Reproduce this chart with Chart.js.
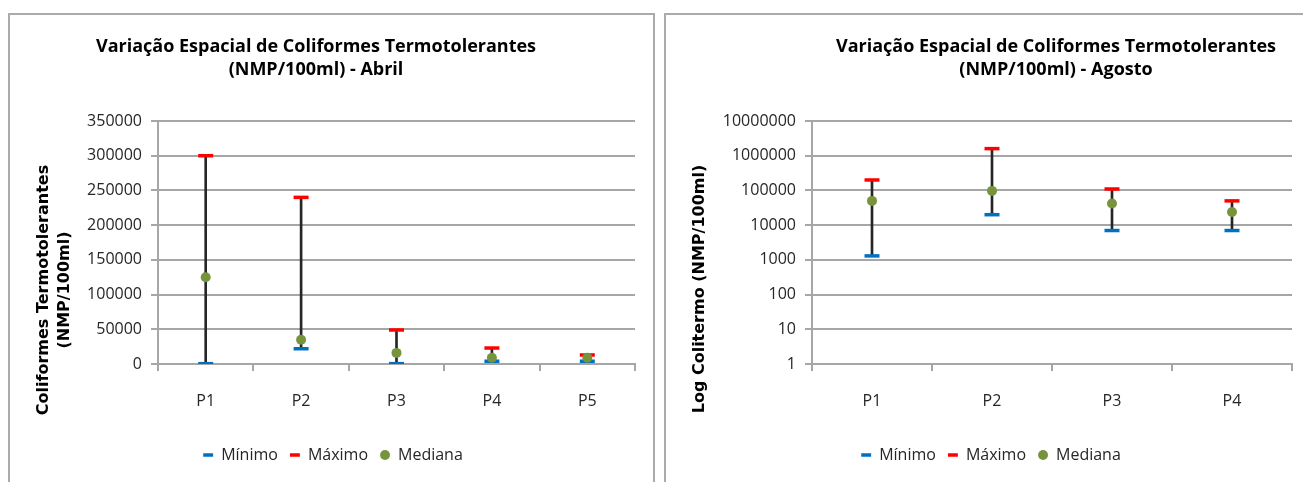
<!DOCTYPE html>
<html lang="pt">
<head>
<meta charset="utf-8">
<title>Variação Espacial de Coliformes Termotolerantes</title>
<script src="https://cdn.jsdelivr.net/npm/chart.js@4.4.1/dist/chart.umd.min.js"></script>
<style>
  html, body { margin: 0; padding: 0; background: #fff; overflow: hidden; }
  body { width: 1303px; height: 482px; position: relative; }
  .frame { position: absolute; border: 2px solid #ababab; box-sizing: border-box; }
  canvas { position: absolute; }
</style>
</head>
<body>
<div class="frame" style="left:8px; top:13px; width:647px; height:490px;"></div>
<div class="frame" style="left:664px; top:13px; width:660px; height:490px;"></div>
<canvas id="abril" width="646" height="468" style="left:8px; top:14px;"></canvas>
<canvas id="agosto" width="638" height="468" style="left:665px; top:14px;"></canvas>
<script>
// Abril: pontos P1–P5, escala linear (NMP/100ml)
const abrilPontos  = ['P1', 'P2', 'P3', 'P4', 'P5'];
const abrilMinimo  = [500, 22000, 500, 4000, 4000];
const abrilMaximo  = [300000, 240000, 49000, 23000, 13000];
const abrilMediana = [125000, 35000, 16000, 9000, 9000];
const abrilTicks   = [0, 50000, 100000, 150000, 200000, 250000, 300000, 350000];

// Agosto: pontos P1–P4, escala logarítmica
const agostoPontos  = ['P1', 'P2', 'P3', 'P4'];
const agostoMinimo  = [1300, 20000, 7000, 7000];
const agostoMaximo  = [200000, 1600000, 110000, 50000];
const agostoMediana = [50000, 97000, 42000, 24000];
const agostoTicks   = [1, 10, 100, 1000, 10000, 100000, 1000000, 10000000];

const SANS = "'Open Sans', sans-serif";
const AXIS_TXT = '#262626';
const GRID = '#a6a6a6';

// Títulos desenhados no canvas em posições livres (como no gráfico do Excel)
const textLayer = {
  id: 'textLayer',
  afterDraw(chart, args, opts) {
    const ctx = chart.ctx;
    ctx.save();
    ctx.fillStyle = '#000';
    ctx.textAlign = 'center';
    ctx.textBaseline = 'middle';
    ctx.font = opts.titleFont;
    opts.titleLines.forEach((t, i) => ctx.fillText(t, opts.titleX, opts.titleY + i * opts.titleGap));
    ctx.font = opts.axisFont;
    opts.axisLines.forEach((t, i) => {
      ctx.save();
      ctx.translate(opts.axisX + i * opts.axisGap, opts.axisY);
      ctx.rotate(-Math.PI / 2);
      ctx.fillText(t, 0, 0);
      ctx.restore();
    });
    ctx.restore();
  }
};

function buildChart(id, labels, minimo, maximo, mediana, ticks, cfg) {
  const whisker = labels.map((_, i) => [minimo[i], maximo[i]]);
  return new Chart(document.getElementById(id), {
    type: 'bar',
    data: {
      labels,
      datasets: [
        { type: 'line', label: 'Mínimo', data: minimo, showLine: false, order: 2,
          pointStyle: 'line', pointRadius: 7.5, pointBorderWidth: 3.5,
          borderColor: '#0070C0', backgroundColor: '#0070C0' },
        { type: 'line', label: 'Máximo', data: maximo, showLine: false, order: 1,
          pointStyle: 'line', pointRadius: 7.5, pointBorderWidth: 3.5,
          borderColor: '#FF0000', backgroundColor: '#FF0000' },
        { type: 'line', label: 'Mediana', data: mediana, showLine: false, order: 0,
          pointStyle: 'circle', pointRadius: 5, pointBorderWidth: 0,
          borderColor: '#77933C', backgroundColor: '#77933C' },
        { type: 'bar', label: 'amplitude', data: whisker, order: 3,
          barThickness: 2, backgroundColor: '#262626', borderWidth: 0 }
      ]
    },
    options: {
      responsive: false,
      animation: false,
      events: [],
      layout: { padding: cfg.padding },
      scales: {
        x: {
          offset: true,
          grid: { offset: true, drawOnChartArea: false, color: GRID, lineWidth: 2, tickLength: 7 },
          border: { color: GRID, width: 2 },
          ticks: { color: AXIS_TXT, font: { family: SANS, size: 16 }, padding: 21 },
          afterFit(s) { s.height = cfg.xHeight; }
        },
        y: cfg.yScale(ticks)
      },
      plugins: {
        legend: {
          position: 'bottom',
          labels: {
            usePointStyle: true, boxWidth: 10, boxHeight: 7, padding: 12,
            color: AXIS_TXT, font: { family: SANS, size: 16 },
            filter: item => item.text !== 'amplitude',
            sort: (a, b) => a.datasetIndex - b.datasetIndex
          }
        },
        tooltip: { enabled: false },
        textLayer: cfg.text
      }
    },
    plugins: [textLayer]
  });
}

const yCommon = {
  grid: { color: GRID, lineWidth: 2, tickLength: 7 },
  border: { color: GRID, width: 2 }
};

buildChart('abril', abrilPontos, abrilMinimo, abrilMaximo, abrilMediana, abrilTicks, {
  padding: { left: 23, right: 19, top: 107, bottom: 9 },
  xHeight: 71,
  yScale: ticks => Object.assign({}, yCommon, {
    type: 'linear', min: ticks[0], max: ticks[ticks.length - 1],
    ticks: { stepSize: ticks[1] - ticks[0], color: AXIS_TXT, font: { family: SANS, size: 16 }, padding: 9,
             callback: v => String(v) },
    afterFit(s) { s.width = 127; }
  }),
  text: {
    titleLines: ['Variação Espacial de Coliformes Termotolerantes', '(NMP/100ml) - Abril'],
    titleX: 308, titleY: 33, titleGap: 23,
    titleFont: "bold 18px " + SANS,
    axisLines: ['Coliformes Termotolerantes', '(NMP/100ml)'],
    axisX: 36, axisY: 276, axisGap: 21,
    axisFont: "bold 16px 'DejaVu Sans', sans-serif"
  }
});

buildChart('agosto', agostoPontos, agostoMinimo, agostoMaximo, agostoMediana, agostoTicks, {
  padding: { left: 25, right: 11, top: 107, bottom: 9 },
  xHeight: 71,
  yScale: ticks => Object.assign({}, yCommon, {
    type: 'logarithmic', min: ticks[0], max: ticks[ticks.length - 1],
    afterBuildTicks(s) { s.ticks = ticks.map(v => ({ value: v })); },
    ticks: { color: AXIS_TXT, font: { family: SANS, size: 16 }, padding: 9,
             callback: v => String(v) },
    afterFit(s) { s.width = 122; }
  }),
  text: {
    titleLines: ['Variação Espacial de Coliformes Termotolerantes', '(NMP/100ml) - Agosto'],
    titleX: 391, titleY: 33, titleGap: 23,
    titleFont: "bold 18px " + SANS,
    axisLines: ['Log Colitermo (NMP/100ml)'],
    axisX: 35, axisY: 275, axisGap: 0,
    axisFont: "bold 16px 'DejaVu Sans', sans-serif"
  }
});
</script>
</body>
</html>
